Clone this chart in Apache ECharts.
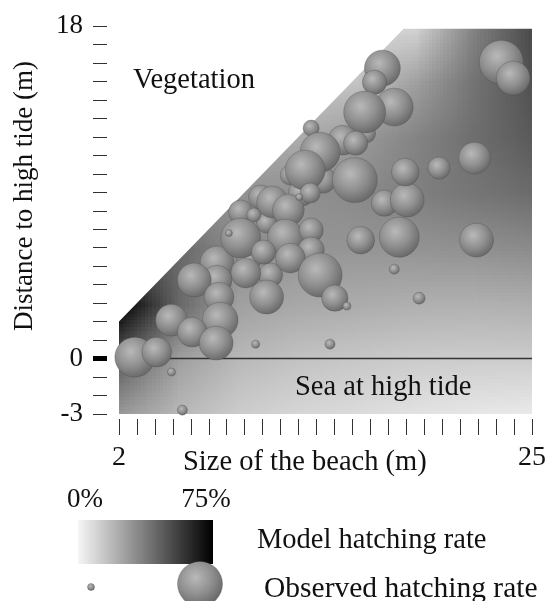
<!DOCTYPE html>
<html><head><meta charset="utf-8">
<script src="https://cdn.jsdelivr.net/npm/echarts@6/dist/echarts.min.js"></script>
<style>html,body{margin:0;padding:0;background:#fff}#c{width:549px;height:601px}</style>
</head><body><div id="c"></div>
<script>
// ---- data ----
const sizeOfBeach = [11.54, 15.73, 13.36, 12.15, 9.89, 10.22, 9.23, 7.46, 10.44,
  23.29, 23.95, 16.67, 16.23, 17.33, 15.68, 12.70, 14.47, 15.18, 13.20, 12.37, 15.13,
  12.65, 16.78, 18.05, 17.94, 19.82, 21.80, 10.55, 11.43, 8.78, 9.50, 8.78, 11.27,
  12.70, 12.70, 10.05, 11.54, 9.06, 7.46, 6.19, 13.20, 10.22, 7.57, 14.02, 7.63,
  4.92, 6.08, 7.41, 2.88, 4.10, 15.46, 17.61, 21.91,
  12.04, 8.12, 4.92, 5.53, 9.61, 13.75, 14.69, 17.33, 18.71];
const distanceToHighTide = [9.93, 12.20, 9.66, 8.96, 8.74, 7.33, 5.33, 5.17, 4.52,
  16.04, 15.18, 15.72, 14.96, 13.61, 13.34, 12.47, 11.82, 11.66, 11.17, 10.20, 9.66,
  8.96, 8.41, 8.58, 10.09, 10.31, 10.85, 8.47, 8.04, 7.93, 7.77, 6.52, 6.57,
  6.95, 5.87, 5.76, 5.44, 4.63, 4.25, 4.25, 4.52, 3.33, 3.33, 3.27, 2.08,
  2.08, 1.43, 0.84, 0.08, 0.35, 6.41, 6.57, 6.41,
  8.74, 6.79, -0.73, -2.79, 0.78, 0.78, 2.84, 4.84, 3.27];
const observedRate = [26, 26, 38, 38, 34, 26, 34, 53, 34,
  73, 53, 57, 34, 61, 69, 18, 45, 34, 65, 65, 75,
  26, 38, 53, 41, 30, 49, 49, 49, 34, 14, 65, 57,
  34, 38, 34, 45, 45, 45, 53, 73, 53, 45, 38, 57,
  49, 45, 53, 65, 45, 41, 65, 53,
  0, 0, 2, 6, 2, 6, 2, 6, 10];

const xTickValues = [2, 3, 4, 5, 6, 7, 8, 9, 10, 11, 12, 13, 14, 15, 16, 17, 18, 19, 20, 21, 22, 23, 24, 25];
const yTickValues = [-3, -2, -1, 0, 1, 2, 3, 4, 5, 6, 7, 8, 9, 10, 11, 12, 13, 14, 15, 16, 17, 18];
const xTickLabels = [2, 25];
const yTickLabels = [-3, 0, 18];
const seaLevel = 0;
const beachX = [2, 2, 17.85, 25, 25];
const beachY = [-3, 2, 17.85, 17.85, -3];
const shadeX = [2, 5.29, 8.57, 11.86, 15.14, 18.43, 21.71, 25];
const shadeY = [18, 15, 12, 9, 6, 3, 0, -3];
const modelShade = [
  [215, 215, 215, 215, 215, 212, 130, 72],
  [200, 200, 200, 200, 195, 160, 115, 80],
  [175, 175, 175, 172, 155, 132, 110, 90],
  [145, 145, 145, 145, 138, 128, 118, 108],
  [95, 105, 140, 148, 150, 148, 145, 140],
  [0, 105, 160, 168, 172, 176, 177, 175],
  [95, 160, 185, 195, 200, 204, 205, 205],
  [155, 185, 205, 215, 220, 227, 232, 235]
];
const legendRates = [0, 75];

// ---- rendering ----
const FONT = '"Liberation Serif", "Times New Roman", serif';
const TXT = '#111';
function bubbleSize(rate) { return 7 + Math.max(0, rate) * 38 / 75; }
function bubbleFill() {
  return new echarts.graphic.RadialGradient(0.4, 0.36, 0.66, [
    { offset: 0, color: '#b9b9b9' },
    { offset: 0.55, color: '#909090' },
    { offset: 1, color: '#686868' }
  ]);
}

const shadeCanvas = document.createElement('canvas');
shadeCanvas.width = shadeX.length; shadeCanvas.height = shadeY.length;
(function () {
  const ctx = shadeCanvas.getContext('2d');
  const im = ctx.createImageData(shadeCanvas.width, shadeCanvas.height);
  for (let j = 0; j < shadeY.length; j++) for (let i = 0; i < shadeX.length; i++) {
    const k = (j * shadeX.length + i) * 4, v = modelShade[j][i];
    im.data[k] = v; im.data[k + 1] = v; im.data[k + 2] = v; im.data[k + 3] = 255;
  }
  ctx.putImageData(im, 0, 0);
})();

const Y_MAX = 18, Y_MIN = -3, X_MIN = 2, X_MAX = 25;

function renderBackground(params, api) {
  const tl = api.coord([shadeX[0], shadeY[0]]);
  const br = api.coord([shadeX[shadeX.length - 1], shadeY[shadeY.length - 1]]);
  const veg = [
    api.coord([beachX[1], beachY[1]]),
    api.coord([beachX[2], beachY[2]]),
    api.coord([beachX[3], beachY[3]]),
    api.coord([X_MAX, Y_MAX]),
    api.coord([X_MIN, Y_MAX])
  ];
  veg[3][0] += 2; veg[3][1] -= 2; veg[4][0] -= 2; veg[4][1] -= 2;
  return {
    type: 'group',
    children: [
      { type: 'image', style: { image: shadeCanvas, x: tl[0], y: tl[1], width: br[0] - tl[0], height: br[1] - tl[1],
          sx: 0.5, sy: 0.5, sWidth: shadeX.length - 1, sHeight: shadeY.length - 1 } },
      { type: 'polygon', shape: { points: veg }, style: { fill: '#fff' } }
    ]
  };
}

const bubbles = sizeOfBeach.map((x, i) => [x, distanceToHighTide[i], observedRate[i]]);

const chart = echarts.init(document.getElementById('c'), null, { renderer: 'canvas' });
chart.setOption({
  animation: false,
  backgroundColor: '#fff',
  grid: { left: 119, right: 13, top: 26, bottom: 187 },
  xAxis: {
    type: 'value', min: X_MIN, max: X_MAX, interval: 1, offset: 5, position: 'bottom',
    axisLine: { show: false, onZero: false }, splitLine: { show: false },
    axisTick: { show: true, length: 16, customValues: xTickValues, lineStyle: { color: '#333', width: 1 } },
    axisLabel: { customValues: xTickLabels, margin: 25, fontSize: 28, fontFamily: FONT, color: TXT }
  },
  yAxis: [{
    type: 'value', min: Y_MIN, max: Y_MAX, interval: 1, offset: 12, position: 'left',
    axisLine: { show: false, onZero: false }, splitLine: { show: false },
    axisTick: { show: true, length: 14, customValues: yTickValues, lineStyle: { color: '#333', width: 1 } },
    axisLabel: { customValues: yTickLabels, margin: 24, fontSize: 27, fontFamily: FONT, color: TXT }
  }, {
    type: 'value', min: Y_MIN, max: Y_MAX, interval: 1, offset: 12, position: 'left',
    axisLine: { show: false, onZero: false }, splitLine: { show: false },
    axisTick: { show: true, length: 14, customValues: [seaLevel], lineStyle: { color: '#000', width: 5 } },
    axisLabel: { show: false }
  }],
  series: [
    { type: 'custom', renderItem: renderBackground, data: [0], z: 1, silent: true, clip: false },
    { type: 'line', data: [[X_MIN, seaLevel], [X_MAX, seaLevel]], symbol: 'none', z: 2, silent: true,
      lineStyle: { color: '#333', width: 1.5 } },
    { type: 'scatter', data: bubbles, z: 3, clip: false, silent: true,
      symbolSize: v => bubbleSize(v[2]),
      itemStyle: { color: bubbleFill(), borderColor: 'rgba(70,70,70,0.5)', borderWidth: 0.6, opacity: 1 } }
  ],
  graphic: [
    { type: 'text', x: 133, y: 81, z: 10, style: { text: 'Vegetation', font: '28.5px ' + FONT, fill: TXT, align: 'left', verticalAlign: 'middle' } },
    { type: 'text', x: 295, y: 388, z: 10, style: { text: 'Sea at high tide', font: '28.5px ' + FONT, fill: TXT, align: 'left', verticalAlign: 'middle' } },
    { type: 'text', x: 183, y: 463, z: 10, style: { text: 'Size of the beach (m)', font: '28.5px ' + FONT, fill: TXT, align: 'left', verticalAlign: 'middle' } },
    { type: 'text', x: 25, y: 196, rotation: Math.PI / 2, z: 10, style: { text: 'Distance to high tide (m)', font: '27px ' + FONT, fill: TXT, align: 'center', verticalAlign: 'middle' } },
    { type: 'text', x: 85, y: 500, z: 10, style: { text: legendRates[0] + '%', font: '27px ' + FONT, fill: TXT, align: 'center', verticalAlign: 'middle' } },
    { type: 'text', x: 206, y: 500, z: 10, style: { text: legendRates[1] + '%', font: '27px ' + FONT, fill: TXT, align: 'center', verticalAlign: 'middle' } },
    { type: 'rect', shape: { x: 78, y: 520, width: 135, height: 44 }, z: 10,
      style: { fill: new echarts.graphic.LinearGradient(0, 0, 1, 0, [{ offset: 0, color: '#f6f6f6' }, { offset: 1, color: '#000' }]) } },
    { type: 'text', x: 257, y: 541, z: 10, style: { text: 'Model hatching rate', font: '28.5px ' + FONT, fill: TXT, align: 'left', verticalAlign: 'middle' } },
    { type: 'circle', shape: { cx: 91, cy: 587, r: bubbleSize(legendRates[0]) / 2 }, z: 10,
      style: { fill: bubbleFill(), stroke: 'rgba(70,70,70,0.5)', lineWidth: 0.6 } },
    { type: 'circle', shape: { cx: 200, cy: 584, r: bubbleSize(legendRates[1]) / 2 }, z: 10,
      style: { fill: bubbleFill(), stroke: 'rgba(70,70,70,0.5)', lineWidth: 0.6 } },
    { type: 'text', x: 264, y: 589, z: 10, style: { text: 'Observed hatching rate', font: '29.5px ' + FONT, fill: TXT, align: 'left', verticalAlign: 'middle' } }
  ]
});
</script></body></html>
